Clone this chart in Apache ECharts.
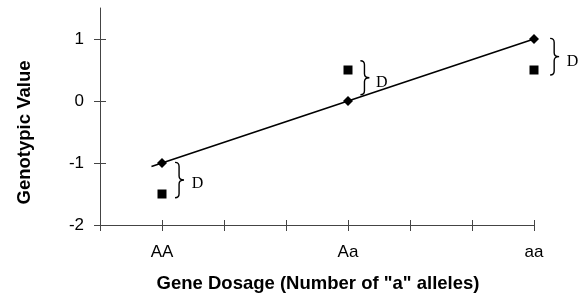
<!DOCTYPE html>
<html>
<head>
<meta charset="utf-8">
<script src="https://cdn.jsdelivr.net/npm/echarts@6/dist/echarts.min.js"></script>
<style>html,body{margin:0;padding:0;background:#fff}#c{width:582px;height:296px}</style>
</head>
<body>
<div id="c"></div>
<script>
// x positions in thirds of a gene-dosage step: AA=1, Aa=4, aa=7
const xTickLabels = {1: 'AA', 4: 'Aa', 7: 'aa'};
const yTickValues = [-2, -1, 0, 1];
const genotypeX = [1, 4, 7];
const additiveValues = [-1, 0, 1];          // diamonds on the line
const dominanceValues = [-1.5, 0.5, 0.5];   // squares
const trendLine = [[0.83, -1.055], [7, 1]];
// braces: [x, top, bottom]
const braces = [[1.21, -0.99, -1.56], [4.2, 0.65, 0.1], [7.26, 1.01, 0.42]];
// "D" labels: [x, y]
const braceLabels = [[1.48, -1.34], [4.45, 0.3], [7.53, 0.63]];

const chart = echarts.init(document.getElementById('c'), null, {renderer: 'canvas'});
const axisColor = '#444';
const font = 'Liberation Sans, Arial, sans-serif';

const diamondData = genotypeX.map((x, i) => [x, additiveValues[i]]);
const squareData = genotypeX.map((x, i) => [x, dominanceValues[i]]);
const braceData = braces.map((b, i) => b.concat(braceLabels[i]));

chart.setOption({
  animation: false,
  grid: {left: 100, right: 48, top: 8, bottom: 71},
  xAxis: [{
    type: 'value', min: 0, max: 7, interval: 1,
    axisLine: {show: true, onZero: false, lineStyle: {color: axisColor, width: 1}},
    axisTick: {show: true, inside: false, length: 6, lineStyle: {color: axisColor}},
    splitLine: {show: false},
    axisLabel: {
      margin: 19, color: '#000', fontFamily: font, fontSize: 17,
      formatter: v => xTickLabels[v] || ''
    }
  }, {
    type: 'value', min: 0, max: 7, interval: 1, position: 'bottom',
    axisLine: {show: false, onZero: false},
    axisTick: {show: true, inside: true, length: 5, lineStyle: {color: axisColor}},
    axisLabel: {show: false}, splitLine: {show: false}
  }],
  yAxis: [{
    type: 'value', min: -2, max: 1.5, interval: 1,
    axisLine: {show: true, onZero: false, lineStyle: {color: axisColor, width: 1}},
    axisTick: {show: true, inside: false, length: 6, customValues: yTickValues, lineStyle: {color: axisColor}},
    splitLine: {show: false},
    axisLabel: {margin: 16, color: '#000', fontFamily: font, fontSize: 17, customValues: yTickValues}
  }, {
    type: 'value', min: -2, max: 1.5, interval: 1, position: 'left',
    axisLine: {show: false, onZero: false},
    axisTick: {show: true, inside: true, length: 6, customValues: yTickValues, lineStyle: {color: axisColor}},
    axisLabel: {show: false}, splitLine: {show: false}
  }],
  series: [{
    type: 'line', data: trendLine, symbol: 'none',
    lineStyle: {color: '#000', width: 1.6}, z: 2
  }, {
    type: 'scatter', data: diamondData, symbol: 'diamond', symbolSize: [10, 10],
    itemStyle: {color: '#000', opacity: 1}, z: 3
  }, {
    type: 'scatter', data: squareData, symbol: 'rect', symbolSize: 9,
    itemStyle: {color: '#000', opacity: 1}, z: 3
  }, {
    type: 'custom', clip: false, data: braceData, z: 4,
    renderItem: function (params, api) {
      const p0 = api.coord([api.value(0), api.value(1)]);
      const p1 = api.coord([api.value(0), api.value(2)]);
      const lp = api.coord([api.value(3), api.value(4)]);
      const x0 = p0[0], top = p0[1], bot = p1[1];
      const w = 9, mid = (top + bot) / 2, r = 4;
      const xm = x0 + w * 0.45;
      const d = 'M' + x0 + ',' + top +
        ' Q' + xm + ',' + top + ' ' + xm + ',' + (top + r) +
        ' L' + xm + ',' + (mid - r) +
        ' Q' + xm + ',' + mid + ' ' + (x0 + w) + ',' + mid +
        ' Q' + xm + ',' + mid + ' ' + xm + ',' + (mid + r) +
        ' L' + xm + ',' + (bot - r) +
        ' Q' + xm + ',' + bot + ' ' + x0 + ',' + bot;
      return {
        type: 'group',
        children: [{
          type: 'path', shape: {pathData: d},
          style: {stroke: '#000', lineWidth: 1.4, fill: null}
        }, {
          type: 'text',
          style: {
            x: lp[0], y: lp[1], text: 'D', fill: '#000',
            font: '16px "Liberation Serif", "Times New Roman", serif',
            verticalAlign: 'middle', align: 'left'
          }
        }]
      };
    }
  }],
  graphic: [{
    type: 'text', x: 24.5, y: 132.5, rotation: Math.PI / 2,
    style: {
      text: 'Genotypic Value', fill: '#000',
      font: 'bold 18.5px "Liberation Sans", Arial, sans-serif',
      align: 'center', verticalAlign: 'middle'
    }
  }, {
    type: 'text', x: 318, y: 284,
    style: {
      text: 'Gene Dosage (Number of "a" alleles)', fill: '#000',
      font: 'bold 18.5px "Liberation Sans", Arial, sans-serif',
      align: 'center', verticalAlign: 'middle'
    }
  }]
});
</script>
</body>
</html>
